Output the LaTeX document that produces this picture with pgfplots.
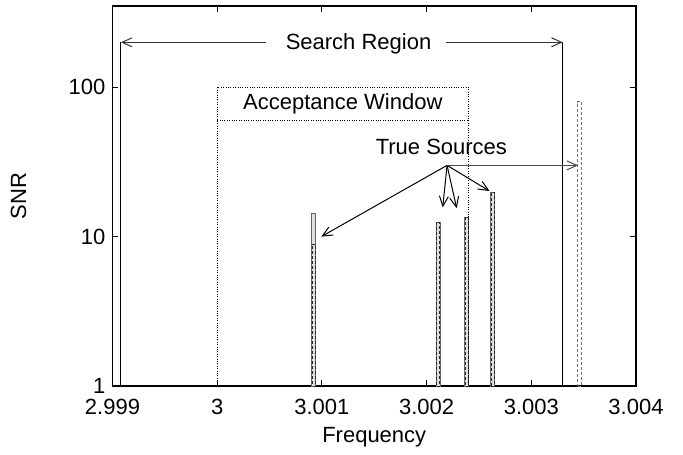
\documentclass[border=0pt]{standalone}
\usepackage{pgfplots}
\pgfplotsset{compat=1.18}
\usepackage{fontspec}
\setmainfont{Liberation Sans}
\usetikzlibrary{arrows.meta}
\begin{document}
\begin{tikzpicture}[font=\fontsize{11}{13}\selectfont, >={Straight Barb[length=5pt,width=4.5pt]}]
\useasboundingbox (-56.25pt,-34pt) rectangle (285.25pt,193pt);
\begin{axis}[
 scale only axis, width=261.75pt, height=190pt,
 ymode=log, xmin=2.999, xmax=3.004, ymin=1, ymax=350,
 xtick={2.999,3,3.001,3.002,3.003,3.004},
 xticklabels={2.999,3,3.001,3.002,3.003,3.004},
 ytick={1,10,100}, yticklabels={1,10,100},
 yminorticks=false,
 major tick length=3pt,
 tick style={black, line width=0.5pt},
 axis line style={line width=0.6pt},
 tick label style={font=\fontsize{11}{13}\selectfont},
 xticklabel style={yshift=-3pt},
 label style={font=\fontsize{11}{13}\selectfont},
 xlabel={Frequency}, ylabel={SNR},
 xlabel style={at={(axis description cs:0.5,-0.1342)}, anchor=center},
 ylabel style={at={(axis description cs:-0.1796,0.5)}, anchor=center},
 /pgf/number format/assume math mode=true,
 clip=false,
]
% found sources (solid outlined boxes)
\addplot[ybar, bar width=2pt, bar shift=0pt, draw=black!60, fill=gray!25, line width=0.5pt] coordinates {
 (3.000921,14.2) (3.00211,12.5) (3.002384,13.5) (3.00263,19.8)};
% true sources (dashed boxes)
\addplot[ybar, bar width=1.5pt, bar shift=0pt, draw=black!85, dash pattern=on 1.5pt off 1pt, fill=none, line width=0.5pt] coordinates {
 (3.000925,8.9) (3.00211,12.5) (3.002384,13.5) (3.00263,19.8)};
\addplot[ybar, bar width=2pt, bar shift=0pt, draw=black!55, dash pattern=on 1.5pt off 1pt, fill=none, line width=0.5pt] coordinates {
 (3.003461,80)};
% search region
\addplot[black, line width=0.6pt] coordinates {(2.99908,1) (2.99908,200)};
\addplot[black, line width=0.6pt] coordinates {(3.0033,1) (3.0033,200)};
% acceptance window
\addplot[black, line width=0.5pt, dash pattern=on 0.5pt off 0.7pt] coordinates {(3,1) (3,100) (3.0024,100) (3.0024,1)};
\addplot[black, line width=0.5pt, dash pattern=on 0.5pt off 0.7pt] coordinates {(3,60) (3.0024,60)};
% annotations
\draw[->, line width=0.5pt, black!80] (axis cs:3.00047,200) -- (axis cs:2.99908,200);
\draw[->, line width=0.5pt, black!80] (axis cs:3.002186,200) -- (axis cs:3.0033,200);
\node at (axis cs:3.00135,195) {Search Region};
\node at (axis cs:3.0012,77.5) {Acceptance Window};
\node at (axis cs:3.002141,40) {True Sources};
\draw[->, line width=0.5pt] (axis cs:3.0021955,30) -- (axis cs:3.000994,10);
\draw[->, line width=0.5pt] (axis cs:3.0021955,30) -- (axis cs:3.002154,15.7);
\draw[->, line width=0.5pt] (axis cs:3.0021955,30) -- (axis cs:3.002287,15.5);
\draw[->, line width=0.5pt] (axis cs:3.0021955,30) -- (axis cs:3.0026,20.2);
\draw[->, line width=0.5pt, black!70] (axis cs:3.0021955,30) -- (axis cs:3.003447,30);
\end{axis}
\end{tikzpicture}
\end{document}
